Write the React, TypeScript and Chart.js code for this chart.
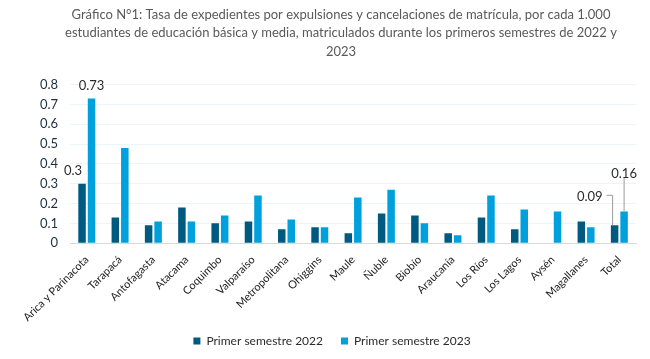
import React, { useEffect, useRef } from "react";
import { Chart, registerables } from "chart.js";

Chart.register(...registerables);

const categories = [
  "Arica y Parinacota", "Tarapacá", "Antofagasta", "Atacama", "Coquimbo",
  "Valparaíso", "Metropolitana", "Ohiggins", "Maule", "Ñuble", "Biobío",
  "Araucanía", "Los Ríos", "Los Lagos", "Aysén", "Magallanes", "Total",
];
const series2022 = [0.3, 0.13, 0.09, 0.18, 0.1, 0.11, 0.07, 0.08, 0.05, 0.15, 0.14, 0.05, 0.13, 0.07, null, 0.11, 0.09];
const series2023 = [0.73, 0.48, 0.11, 0.11, 0.14, 0.24, 0.12, 0.08, 0.23, 0.27, 0.1, 0.04, 0.24, 0.17, 0.16, 0.08, 0.16];
const seriesNames = ["Primer semestre 2022", "Primer semestre 2023"];
const titleLines = [
  "Gráfico N°1: Tasa de expedientes por expulsiones y cancelaciones de matrícula, por cada 1.000",
  "estudiantes de educación básica y media, matriculados durante los primeros semestres de 2022 y",
  "2023",
];
const yTicks = [0, 0.1, 0.2, 0.3, 0.4, 0.5, 0.6, 0.7, 0.8];

const DARK = "#005a80";
const LIGHT = "#00a0dc";
const FONT = "Lato";

const labelPlugin = {
  id: "customLabels",
  afterInit(chart: any) {
    const l = chart.legend;
    if (l && !l._patched) {
      const orig = l.fit.bind(l);
      l.fit = function () {
        orig();
        this.height -= 7;
      };
      l._patched = true;
    }
  },
  afterLayout(chart: any) {
    const l = chart.legend;
    if (l) {
      l.top -= 9;
      l.bottom -= 9;
    }
    const t = chart.titleBlock;
    if (t) {
      t.left += 9;
      t.right += 9;
    }
  },
  afterDatasetsDraw(chart: any) {
    const ctx = chart.ctx;
    const m0 = chart.getDatasetMeta(0).data;
    const m1 = chart.getDatasetMeta(1).data;
    const fmt = (v: number) => String(v);
    ctx.save();
    ctx.font = `13px ${FONT}`;
    ctx.fillStyle = "#2b2b2b";
    ctx.textAlign = "center";
    ctx.textBaseline = "middle";
    const a0 = m0[0], a1 = m1[0];
    ctx.fillText(fmt(series2022[0] as number), a0.x - 9, a0.y - 13);
    ctx.fillText(fmt(series2023[0]), a1.x, a1.y - 13);
    const last = categories.length - 1;
    const t0 = m0[last], t1 = m1[last];
    ctx.strokeStyle = "#9a9a9a";
    ctx.lineWidth = 1;
    ctx.beginPath();
    ctx.moveTo(t0.x - 8, t0.y - 30);
    ctx.lineTo(t0.x - 2, t0.y - 30);
    ctx.lineTo(t0.x - 2, t0.y);
    ctx.stroke();
    ctx.beginPath();
    ctx.moveTo(t1.x, t1.y - 34);
    ctx.lineTo(t1.x, t1.y);
    ctx.stroke();
    ctx.textAlign = "right";
    ctx.fillText(fmt(series2022[last] as number), t0.x - 12, t0.y - 29);
    ctx.textAlign = "center";
    ctx.fillText(fmt(series2023[last]), t1.x, t1.y - 38);
    ctx.restore();
  },
};

export default function App() {
  const ref = useRef<HTMLCanvasElement>(null);
  useEffect(() => {
    const chart = new Chart(ref.current as HTMLCanvasElement, {
      type: "bar",
      data: {
        labels: categories,
        datasets: [
          { label: seriesNames[0], data: series2022, backgroundColor: DARK },
          { label: seriesNames[1], data: series2023, backgroundColor: LIGHT },
        ],
      },
      options: {
        animation: false,
        responsive: true,
        maintainAspectRatio: false,
        datasets: { bar: { categoryPercentage: 0.57, barPercentage: 0.79 } },
        layout: { padding: { left: 28, right: 14, top: 0, bottom: 0 } },
        plugins: {
          title: {
            display: true,
            text: titleLines,
            color: "#595959",
            font: { family: FONT, size: 13, weight: "normal", lineHeight: 1.45 },
            padding: { top: 5, bottom: 23 },
          },
          legend: {
            position: "bottom",
            labels: {
              boxWidth: 7,
              boxHeight: 7,
              padding: 18,
              color: "#2b2b2b",
              font: { family: FONT, size: 12 },
            },
          },
          tooltip: { enabled: false },
        },
        scales: {
          x: {
            grid: { display: false },
            border: { color: "#d9d9d9" },
            ticks: {
              color: "#222",
              font: { family: FONT, size: 11 },
              maxRotation: 45,
              minRotation: 45,
              padding: 2,
              autoSkip: false,
            },
          },
          y: {
            min: 0,
            max: 0.8,
            afterBuildTicks: (s: any) => {
              s.ticks = yTicks.map((v) => ({ value: v }));
            },
            grid: {
              color: (c: any) => (c.tick && c.tick.value === 0 ? "#d9d9d9" : "#e8f5fb"),
              drawTicks: false,
            },
            border: { display: false },
            ticks: {
              color: "#1f2f3f",
              font: { family: FONT, size: 13 },
              padding: 12,
              autoSkip: false,
              callback: (v: any) => (Number(v) === 0 ? "0" : Number(v).toFixed(1)),
            },
          },
        },
      },
      plugins: [labelPlugin],
    });
    return () => chart.destroy();
  }, []);
  return (
    <div style={{ position: "fixed", left: 0, top: 0, width: 650, height: 359, background: "#fff" }}>
      <canvas ref={ref} />
    </div>
  );
}
